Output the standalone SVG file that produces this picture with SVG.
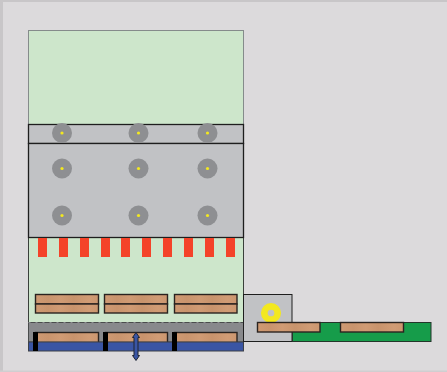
<svg xmlns="http://www.w3.org/2000/svg" width="447" height="372" viewBox="0 0 447 372">
<style>
.w{fill:url(#wood);stroke:#2a2320;stroke-width:1.4}
.g{fill:#c1c2c5;stroke:#1e1e1e;stroke-width:1.3}
.r{fill:#f44329}
.k{fill:#000}
.h{fill:#8e8f92}
.y{fill:#f3e81f}
</style>
<defs>
<linearGradient id="wood" x1="0" y1="0" x2="1" y2="0">
<stop offset="0" stop-color="#cf9a73"/><stop offset=".2" stop-color="#c9946d"/><stop offset=".4" stop-color="#d09b74"/><stop offset=".6" stop-color="#c8936c"/><stop offset=".85" stop-color="#d19c75"/><stop offset="1" stop-color="#cb966f"/>
</linearGradient>
<g id="bolt"><circle r="10" class="h"/><circle r="1.6" class="y"/></g>
</defs>
<rect width="447" height="372" fill="#dcdadc"/>
<rect width="447" height="2" fill="#c8c6c8"/>
<rect width="3" height="372" fill="#c8c6c8"/>
<rect y="370.500" width="447" height="1.500" fill="#d0ced0"/>
<g id="chamber">
<rect x="28.500" y="30.500" width="215" height="94" fill="#cde6cb" stroke="#858b8b" stroke-width="1"/>
<rect x="28.500" y="237.500" width="215" height="85" fill="#cde6cb" stroke="#3a3f3a" stroke-width="1"/>
</g>
<g id="plates">
<rect x="28.500" y="124.500" width="215" height="19" class="g"/>
<rect x="28.500" y="143.500" width="215" height="94" class="g"/>
</g>
<g id="bolts">
<use href="#bolt" x="62" y="133"/><use href="#bolt" x="138.500" y="133"/><use href="#bolt" x="207.500" y="133"/>
<use href="#bolt" x="62" y="168.500"/><use href="#bolt" x="138.500" y="168.500"/><use href="#bolt" x="207.500" y="168.500"/>
<use href="#bolt" x="62" y="215.500"/><use href="#bolt" x="138.500" y="215.500"/><use href="#bolt" x="207.500" y="215.500"/>
</g>
<g id="heaters">
<rect class="r" x="38" y="238" width="9" height="19"/><rect class="r" x="59" y="238" width="9" height="19"/><rect class="r" x="80" y="238" width="9" height="19"/><rect class="r" x="101" y="238" width="9" height="19"/><rect class="r" x="121" y="238" width="9" height="19"/><rect class="r" x="142" y="238" width="9" height="19"/><rect class="r" x="163" y="238" width="9" height="19"/><rect class="r" x="184" y="238" width="9" height="19"/><rect class="r" x="205" y="238" width="9" height="19"/><rect class="r" x="226" y="238" width="9" height="19"/>
</g>
<g id="stacks">
<rect class="w" x="35.500" y="294.500" width="63" height="9.500"/><rect class="w" x="35.500" y="304" width="63" height="9"/>
<rect class="w" x="104.500" y="294.500" width="63" height="9.500"/><rect class="w" x="104.500" y="304" width="63" height="9"/>
<rect class="w" x="174.500" y="294.500" width="62.500" height="9.500"/><rect class="w" x="174.500" y="304" width="62.500" height="9"/>
</g>
<g id="base">
<rect x="28.500" y="322.500" width="215" height="19.500" fill="#88898c" stroke="#4a4c4c" stroke-width="1"/>
<path d="M28.500 322.500H243.500" fill="none" stroke="#88898c" stroke-width="1" stroke-dasharray="2 5"/>
<rect class="w" x="35.500" y="332.500" width="63" height="10"/>
<rect class="w" x="105.500" y="332.500" width="62" height="10"/>
<rect class="w" x="174.500" y="332.500" width="62.500" height="10"/>
<rect x="28.500" y="342" width="215" height="9" fill="#3a55a4" stroke="#3c4048" stroke-width="1"/>
<rect class="k" x="33" y="332" width="5" height="19"/><rect class="k" x="103" y="332" width="5" height="19"/><rect class="k" x="172" y="332" width="5" height="19"/>
</g>
<g id="side-chamber">
<rect x="243.500" y="294.500" width="48.500" height="47" fill="#c1c2c5" stroke="#1e1e1e" stroke-width="1"/>
<circle cx="271" cy="313" r="6.700" fill="none" stroke="#f3e81f" stroke-width="6.700"/>
</g>
<g id="conveyor">
<rect x="292.500" y="322.500" width="138.500" height="19" fill="#169c4a" stroke="#23352a" stroke-width="1"/>
<rect class="w" x="257.500" y="322.500" width="62.500" height="9.500"/>
<rect class="w" x="340.500" y="322.500" width="63" height="9.500"/>
</g>
<g id="connectors">
<path d="M136 332.500L139.500 337.500H138V355.500H139.500L136 360.500L132.500 355.500H134V337.500H132.500Z" fill="#3a55a4" stroke="#1f2430" stroke-width="1"/>
</g>
</svg>
